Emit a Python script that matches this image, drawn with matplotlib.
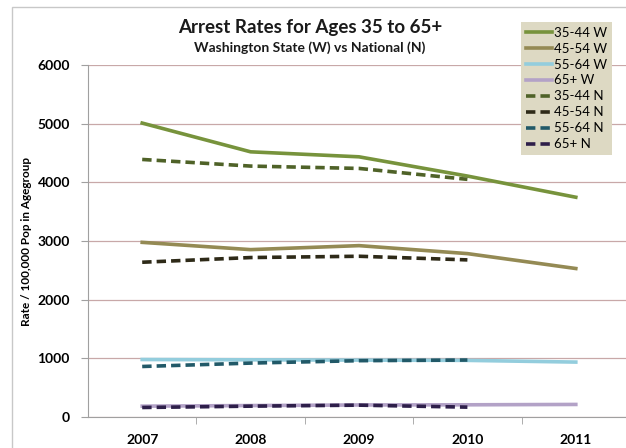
import matplotlib
matplotlib.use("Agg")
import matplotlib.pyplot as plt
from matplotlib.patches import Rectangle

plt.rcParams['font.family'] = ['Lato', 'DejaVu Sans']

years = ['2007', '2008', '2009', '2010', '2011']
w_35_44 = [5010, 4520, 4435, 4107, 3746]
w_45_54 = [2977, 2853, 2921, 2785, 2531]
w_55_64 = [980, 975, 970, 965, 936]
w_65 = [185, 195, 205, 208, 214]
n_35_44 = [4390, 4277, 4237, 4051]
n_45_54 = [2638, 2718, 2740, 2678]
n_55_64 = [861, 919, 960, 971]
n_65 = [162, 185, 202, 168]

series = [
    ('35-44 W', w_35_44, '#77933C', '-'),
    ('45-54 W', w_45_54, '#948A54', '-'),
    ('55-64 W', w_55_64, '#93CDDD', '-'),
    ('65+ W', w_65, '#B3A2C7', '-'),
    ('35-44 N', n_35_44, '#4F6228', '--'),
    ('45-54 N', n_45_54, '#2E2A18', '--'),
    ('55-64 N', n_55_64, '#215968', '--'),
    ('65+ N', n_65, '#2E1F4A', '--'),
]

fig = plt.figure(figsize=(6.26, 4.48), dpi=100)
ax = fig.add_axes([88/626, 31/448, (630-88)/626, (417-65)/448])

for name, vals, col, ls in series:
    x = list(range(len(vals)))
    if ls == '--':
        ax.plot(x, vals, color=col, lw=2.6, ls=(0, (2.6, 1.4)), label=name,
                solid_capstyle='butt', dash_capstyle='butt')
    else:
        ax.plot(x, vals, color=col, lw=2.6, label=name)

ax.set_xlim(-0.5, 4.5)
ax.set_ylim(0, 6000)
ax.set_yticks(range(0, 6001, 1000))
ax.set_xticks(range(5))
ax.set_xticklabels(years, fontsize=10, fontweight='bold')
ax.set_xticks([0.5, 1.5, 2.5, 3.5], minor=True)
ax.tick_params(axis='x', which='major', length=0, pad=12)
ax.tick_params(axis='x', which='minor', length=5, color='#A0A0A0')
ax.tick_params(axis='y', length=5, color='#A0A0A0', labelsize=10, pad=8)
for lab in ax.get_yticklabels():
    lab.set_fontweight('bold')
ax.grid(axis='y', color='#C8A8A8', lw=0.9)
ax.set_axisbelow(True)
for s in ['top', 'right']:
    ax.spines[s].set_visible(False)
ax.spines['left'].set_color('#A0A0A0')
ax.spines['bottom'].set_color('#A0A0A0')
ax.set_ylabel('Rate / 100,000 Pop in Agegroup', fontsize=8.5, fontweight='bold', labelpad=4)

fig.text(310/626, 1 - 28/448, 'Arrest Rates for Ages 35 to 65+', ha='center', va='center',
         fontsize=13.5, fontweight='bold', color='#1a1a1a')
fig.text(310/626, 1 - 48/448, 'Washington State (W) vs National (N)', ha='center', va='center',
         fontsize=10, fontweight='bold', color='#1a1a1a')

leg = ax.legend(loc='upper left', bbox_to_anchor=((521-88)/(630-88), 1 + (65-22)/(417-65)),
                fontsize=9.5, frameon=True, fancybox=False, facecolor='#DDD9C3', edgecolor='#DDD9C3',
                framealpha=1, handlelength=2.0, handletextpad=0.15, labelspacing=0.3,
                borderpad=0.35, borderaxespad=0)
leg.get_frame().set_linewidth(0)

fig.patches.append(Rectangle((12/626, -0.1), 1.2, 1 - 7/448 + 0.1, transform=fig.transFigure,
                             fill=False, edgecolor='#C8C8C8', lw=1))

fig.savefig('out.png', dpi=100)
